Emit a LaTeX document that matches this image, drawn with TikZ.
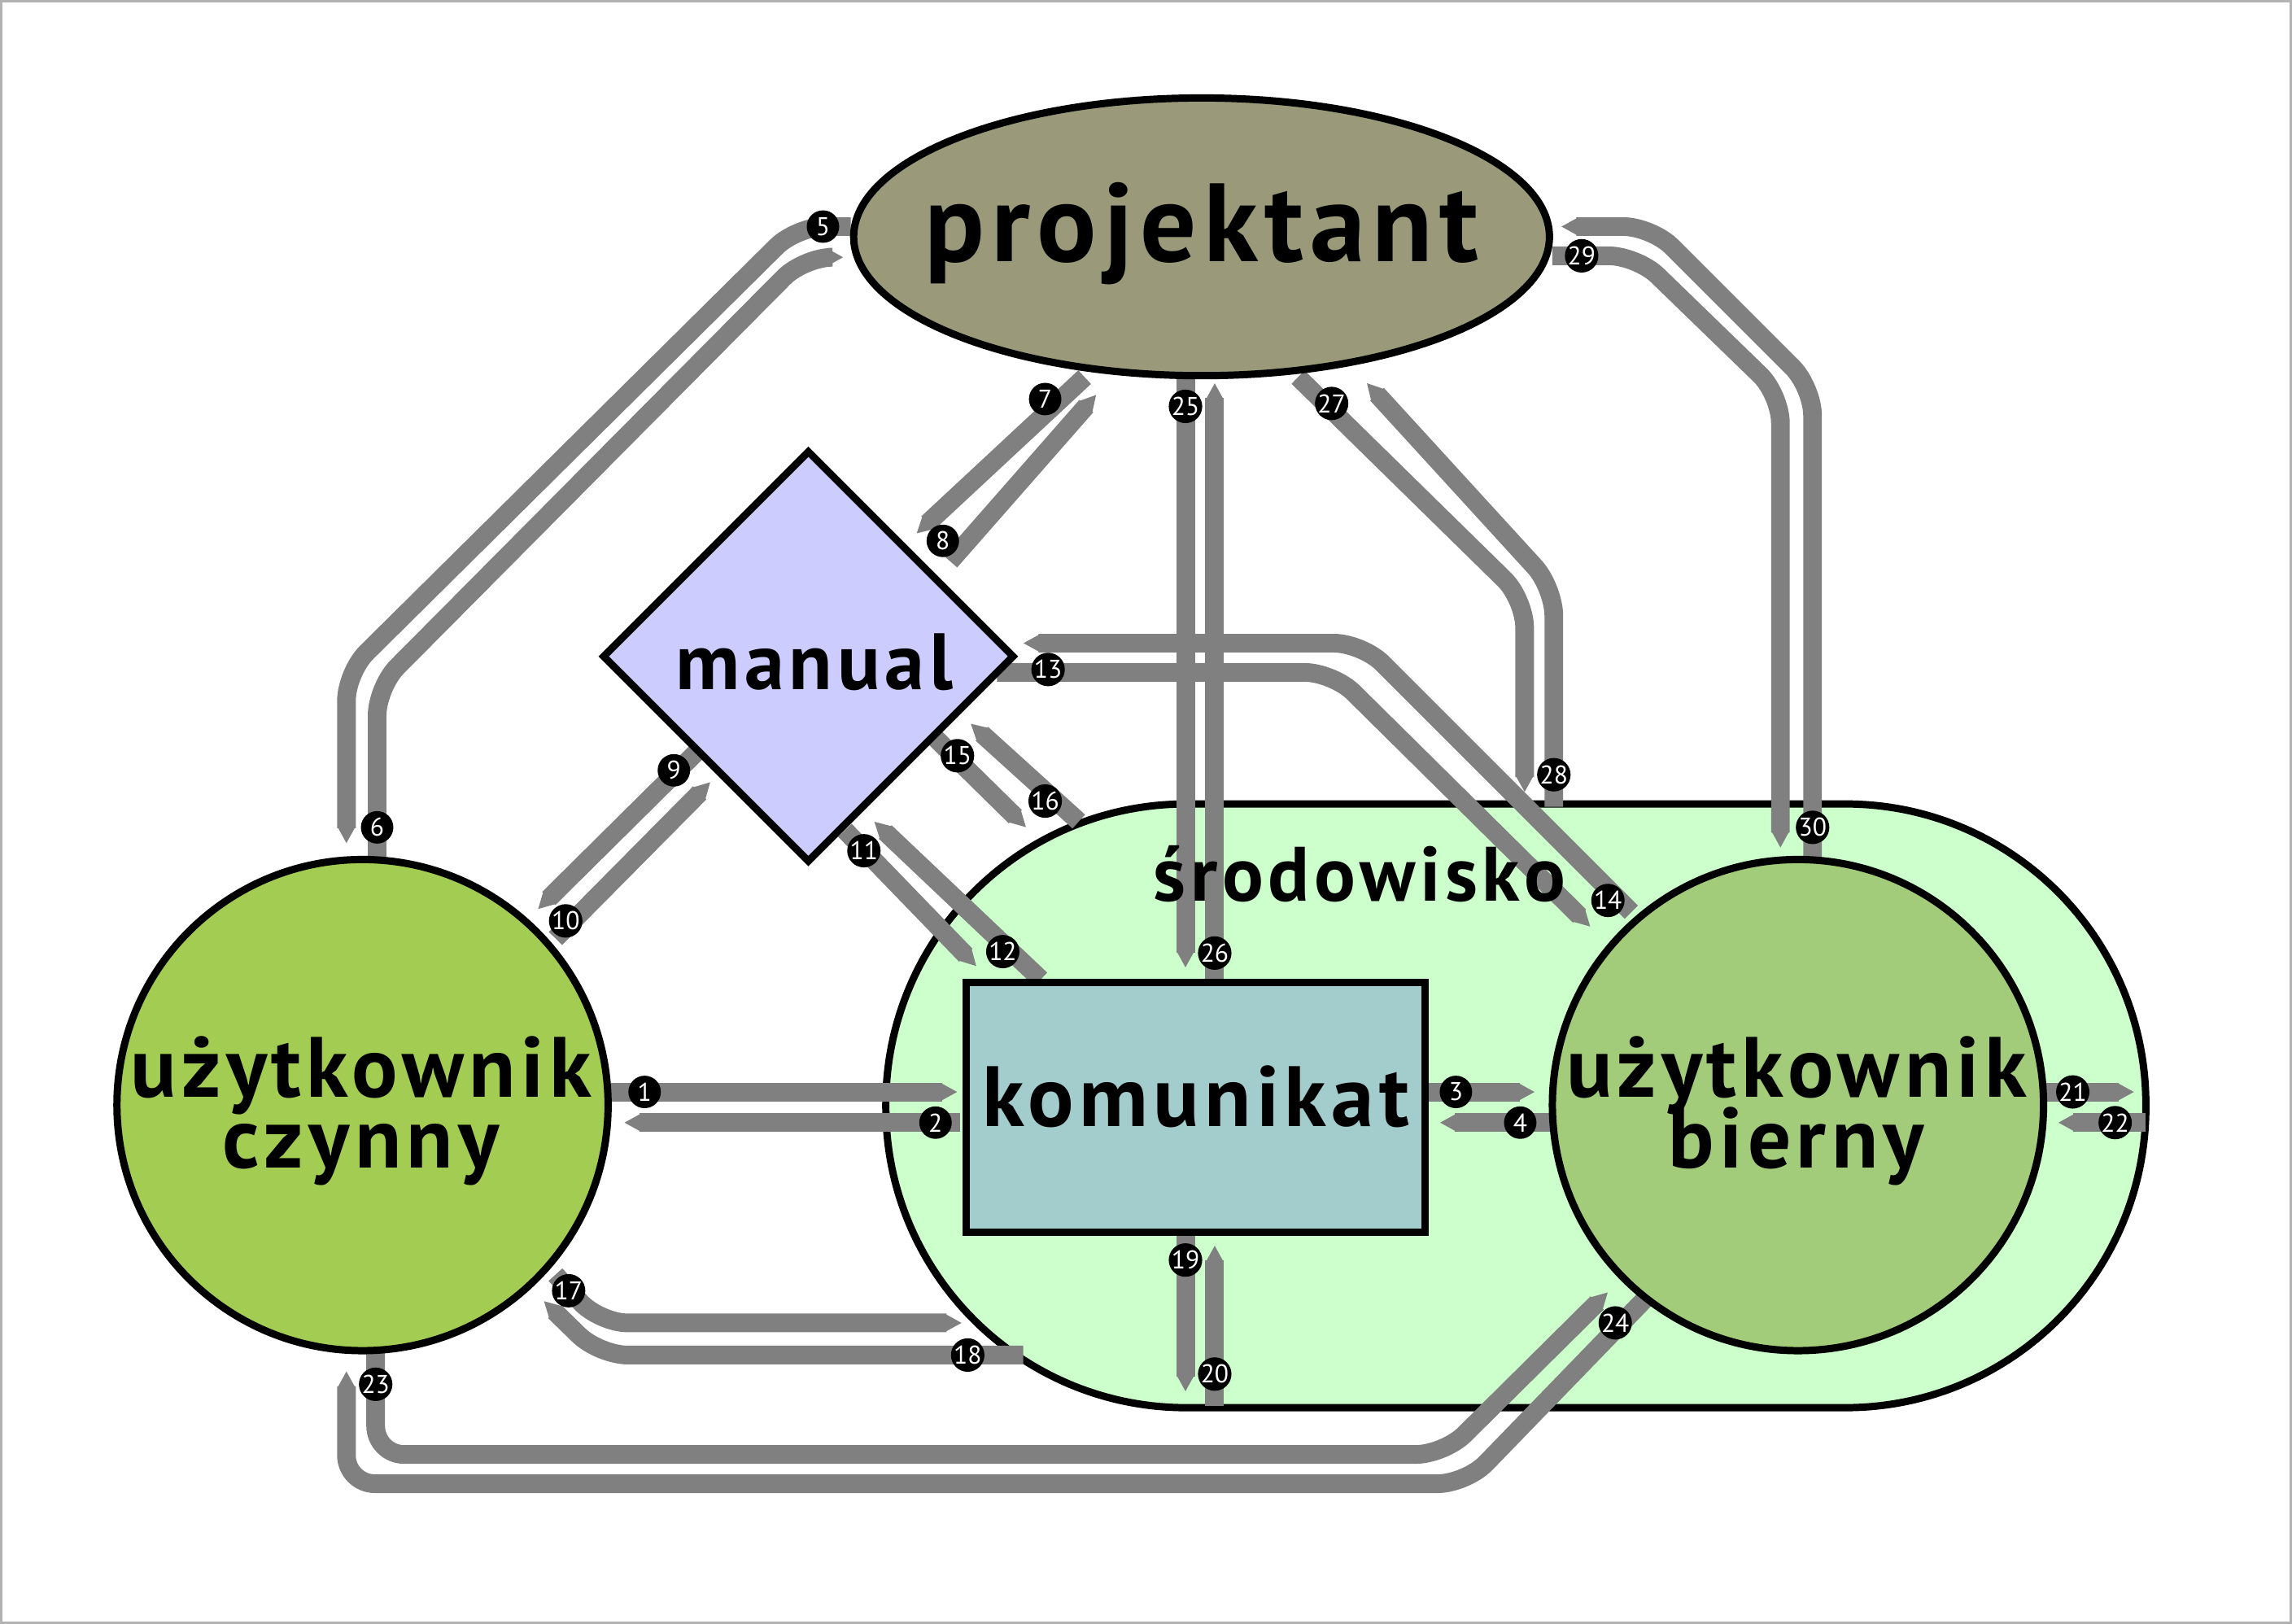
\documentclass[tikz,border=0pt]{standalone}
\usepackage{fontspec}
\setmainfont{PT Sans}
\newfontfamily\bigf[LetterSpace=6]{PT Sans}
\usetikzlibrary{arrows.meta,shapes.geometric}
\definecolor{gr}{HTML}{808080}
\begin{document}
\begin{tikzpicture}[x=0.018cm,y=-0.018cm,
  ar/.style={draw=gr,line width=0.23cm,rounded corners=0.35cm,-{Triangle[width'=0pt 1,length=0.2cm]}},
  num/.style={circle,fill=black,inner sep=0pt,minimum size=0.4cm,text=white,font=\fontsize{9}{9}\selectfont},
  blk/.style={draw=black,line width=0.09cm},
  big/.style={font=\bigf\bfseries\fontsize{#1}{#1}\selectfont,align=center}]
\useasboundingbox (0,0) rectangle (1568,1111);
\draw[gray!60,line width=0.03cm] (1,1) rectangle (1567,1110);
% environment
\draw[blk,fill={rgb,255:red,204;green,255;blue,204},rounded corners=3.7cm] (606,550) rectangle (1468,963);
% connectors
\draw[ar] (418,747) -- (655,747);
\draw[ar] (657,768) -- (427,768);
\draw[ar] (976,747) -- (1050,747);
\draw[ar] (1062,768) -- (985,768);
\draw[ar] (582,155) -- (545,155) -- (237,460) -- (237,577);
\draw[ar] (258,590) -- (258,470) -- (550,176) -- (577,176);
\draw[ar] (742,258) -- (627,365);
\draw[ar] (650,384) -- (750,270);
\draw[ar] (478,513) -- (368,622);
\draw[ar] (380,642) -- (486,535);
\draw[ar] (578,568) -- (668,661);
\draw[ar] (712,670) -- (598,562);
\draw[ar] (682,460) -- (912,460) -- (1088,634);
\draw[ar] (1116,624) -- (932,440) -- (700,440);
\draw[ar] (640,505) -- (702,566);
\draw[ar] (738,562) -- (664,495);
\draw[ar] (380,872) -- (410,905) -- (658,905);
\draw[ar] (700,927) -- (410,927) -- (372,890);
\draw[ar] (811,845) -- (811,952);
\draw[ar] (831,962) -- (831,852);
\draw[ar] (1400,747) -- (1460,747);
\draw[ar] (1468,768) -- (1408,768);
\draw[ar] (257,925) -- (257,995) -- (988,995) -- (1100,884);
\draw[ar] (1126,888) -- (1003,1015) -- (237,1015) -- (237,938);
\draw[ar] (811,258) -- (811,662);
\draw[ar] (831,670) -- (831,262);
\draw[ar] (888,258) -- (1043,410) -- (1043,542);
\draw[ar] (1063,552) -- (1063,402) -- (935,262);
\draw[ar] (1062,175) -- (1120,175) -- (1218,270) -- (1218,580);
\draw[ar] (1240,590) -- (1240,265) -- (1130,155) -- (1068,155);
\node[big=27] (env) at (930,598) {środowisko};
% nodes
\draw[blk,fill={rgb,255:red,154;green,154;blue,122}] (822,162) ellipse[x radius=238,y radius=95];
\node[big=39] (proj) at (822,160) {projektant};
\draw[blk,fill={rgb,255:red,204;green,204;blue,255}] (553,309) -- (693,449) -- (553,589) -- (413,449) -- cycle;
\node[big=28] (man) at (557,453) {manual};
\draw[blk,fill={rgb,255:red,163;green,204;blue,204}] (661,672) rectangle (975,843);
\node[big=30] (kom) at (818,750) {komunikat};
\draw[blk,fill={rgb,255:red,163;green,204;blue,82}] (248,756) circle[radius=168];
\node[big=30] (uc) at (247,760) {użytkownik\\[-5pt]czynny};
\draw[blk,fill={rgb,255:red,163;green,204;blue,122}] (1230,756) circle[radius=168];
\node[big=30] (ub) at (1229,760) {użytkownik\\[-5pt]bierny};
% labels
\node[num] (n1) at (441,747) {1};
\node[num] (n2) at (640,768) {2};
\node[num] (n3) at (996,747) {3};
\node[num] (n4) at (1040,768) {4};
\node[num] (n5) at (563,155) {5};
\node[num] (n6) at (258,566) {6};
\node[num] (n7) at (715,273) {7};
\node[num] (n8) at (645,370) {8};
\node[num] (n9) at (461,527) {9};
\node[num] (n10) at (387,630) {10};
\node[num] (n11) at (591,582) {11};
\node[num] (n12) at (686,651) {12};
\node[num] (n13) at (717,458) {13};
\node[num] (n14) at (1100,616) {14};
\node[num] (n15) at (655,517) {15};
\node[num] (n16) at (715,548) {16};
\node[num] (n17) at (389,883) {17};
\node[num] (n18) at (662,927) {18};
\node[num] (n19) at (811,862) {19};
\node[num] (n20) at (831,940) {20};
\node[num] (n21) at (1418,747) {21};
\node[num] (n22) at (1447,768) {22};
\node[num] (n23) at (257,947) {23};
\node[num] (n24) at (1105,905) {24};
\node[num] (n25) at (811,278) {25};
\node[num] (n26) at (831,652) {26};
\node[num] (n27) at (911,276) {27};
\node[num] (n28) at (1063,530) {28};
\node[num] (n29) at (1082,175) {29};
\node[num] (n30) at (1240,566) {30};
\end{tikzpicture}
\end{document}
